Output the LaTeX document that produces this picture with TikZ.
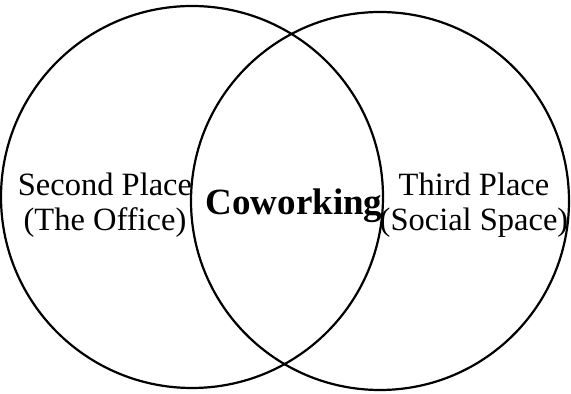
\documentclass[tikz,border=0pt]{standalone}
\usepackage{fontspec}
\setmainfont{Liberation Serif}
\usepackage{tikz}

\begin{document}
\begin{tikzpicture}[x=1pt, y=1pt,
      place/.style={shape=circle,draw,line width=2.2pt,inner sep=0pt},
      label/.style={align=center,font=\fontsize{32.5}{35}\selectfont}]
    \useasboundingbox (0,0) rectangle (571,394);
    % the two places
    \node [place, minimum size=382pt] (office) at (192,197) {};
    \node [place, minimum size=378pt] (social) at (380,193) {};
    % texts
    \node [label] (second) at (105,189) {Second Place\\(The Office)};
    \node [label] (third) at (474,189) {Third Place\\(Social Space)};
    \node [anchor=base, font=\fontsize{37}{37}\selectfont\bfseries] (cowork) at (294,179) {Coworking};
\end{tikzpicture}
\end{document}
